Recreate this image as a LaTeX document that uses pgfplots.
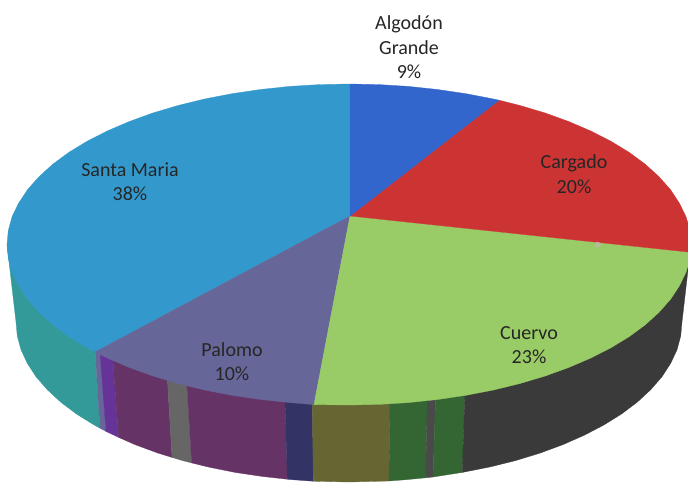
\documentclass[border=0pt]{standalone}
\usepackage{pgfplots}
\pgfplotsset{compat=1.18}
\usepackage{fontspec}
\setmainfont{Carlito}
\definecolor{cblue}{HTML}{3366CC}
\definecolor{cred}{HTML}{CC3333}
\definecolor{cgreen}{HTML}{99CC66}
\definecolor{cslate}{HTML}{666699}
\definecolor{csky}{HTML}{3399CC}
\definecolor{cteal}{HTML}{339999}
\definecolor{cpurple}{HTML}{663399}
\definecolor{cplum}{HTML}{663366}
\definecolor{cgray}{HTML}{666666}
\definecolor{cnavy}{HTML}{333366}
\definecolor{colive}{HTML}{666633}
\definecolor{cdgreen}{HTML}{336633}
\definecolor{cthin}{HTML}{4A4A4A}
\definecolor{cchar}{HTML}{3A3A3A}
\definecolor{cspot}{HTML}{C4B4B4}
\pgfplotsset{seg/.style={fill=#1,draw=#1,line width=0.3pt,no markers,forget plot}}
\tikzset{lab/.style={align=center,font=\fontsize{20}{24.5}\selectfont,text=black!85,inner sep=0pt}}
\begin{document}
\begin{tikzpicture}
\useasboundingbox (0,0) rectangle (688pt,482pt);
\begin{axis}[at={(0,0)},anchor=south west,scale only axis,width=688pt,height=482pt,
  xmin=0,xmax=688,ymin=0,ymax=482,y dir=reverse,hide axis,clip=true]
% side bands
\addplot[seg=cteal] coordinates {(95,350)(87,345)(52.8,322)(27.6,297)(12.1,270)(7,244.5)(16,322)(17.3,336)(21,349.8)(27.4,363.4)(36,376.7)(47.2,389.6)(60.6,402)(76.2,413.8)(94,424.9)(100,428.2)} -- cycle;
\addplot[seg=cslate] coordinates {(95,348)(101,351)(106,431.4)(100,428.2)} -- cycle;
\addplot[seg=cpurple] coordinates {(100,351)(112.7,357)(118.7,437.4)(106,431.4)} -- cycle;
\addplot[seg=cplum] coordinates {(112.7,357)(167.3,377)(172,457.4)(158,453.1)(135,444.6)(118.7,437.4)} -- cycle;
\addplot[seg=cgray] coordinates {(167.3,377)(186.7,382)(191.7,462.9)(182.5,460.6)(172,457.4)} -- cycle;
\addplot[seg=cplum] coordinates {(186.7,382)(285,399)(287.3,479.2)(262.8,476.5)(235.1,472.4)(208.3,467)(191.7,462.9)} -- cycle;
\addplot[seg=cnavy] coordinates {(285,399)(312.3,402)(313.3,481.2)(291.1,479.6)(287.3,479.2)} -- cycle;
\addplot[seg=colive] coordinates {(312.3,402)(390,401)(389,481)(349,482)(320,481.4)(313.3,481.2)} -- cycle;
\addplot[seg=cdgreen] coordinates {(390,401)(427.3,397)(425.7,477.8)(406.9,479.6)(389,481)} -- cycle;
\addplot[seg=cthin] coordinates {(427.3,397)(435.7,396)(433,477)(425.7,477.8)} -- cycle;
\addplot[seg=cdgreen] coordinates {(435.7,396)(465,392)(462.3,472.4)(433,477)} -- cycle;
\addplot[seg=cchar] coordinates {(465,392)(493.5,387)(520,380)(568.9,364)(611,345)(645.2,322)(670.4,297)(685.9,270)(688,262)(688,270)(682,322)(680.7,336)(677,349.8)(670.6,363.4)(662,376.7)(650.8,389.6)(637.4,402)(621.8,413.8)(604,424.9)(584.5,435.1)(563,444.6)(540,453.1)(515.5,460.6)(489.7,467)(462.3,472.4)} -- cycle;
% top faces
\addplot[seg=csky] coordinates {(350,216)(95,352)(87,347.7)(68.8,336.6)(52.8,324.8)(39,312.3)(27.6,299.4)(18.7,286)(12.1,272.4)(8.3,258.5)(7,244.5)(8.3,230.5)(12.1,216.6)(18.7,203)(27.6,189.6)(39,176.7)(52.8,164.2)(68.8,152.4)(87,141.3)(107.2,131)(129.1,121.6)(152.8,113)(178,105.5)(204.5,99)(232,93.7)(260.5,89.5)(289.6,86.4)(319.2,84.6)(349,84)(350,84)} -- cycle;
\addplot[seg=cslate] coordinates {(350,216)(314,404.6)(289.6,402.6)(260.5,399.5)(232,395.3)(204.5,390)(178,383.5)(152.8,376)(129.1,367.4)(107.2,358)(95,352)} -- cycle;
\addplot[seg=cgreen] coordinates {(350,216)(688,252)(688,265.7)(685.9,272.4)(679.3,286)(670.4,299.4)(659,312.3)(645.2,324.8)(629.2,336.6)(611,347.7)(590.8,358)(568.9,367.4)(545.2,376)(520,383.5)(493.5,390)(466,395.3)(437.5,399.5)(408.4,402.6)(378.8,404.4)(349,405)(314,404.6)} -- cycle;
\addplot[seg=cred] coordinates {(350,216)(499,100.2)(520,105.5)(545.2,113)(568.9,121.6)(590.8,131)(611,141.3)(629.2,152.4)(645.2,164.2)(659,176.7)(670.4,189.6)(679.3,203)(685.9,216.6)(688,223.3)(688,252)} -- cycle;
\addplot[seg=cblue] coordinates {(350,216)(350,84)(378.8,84.6)(408.4,86.4)(437.5,89.5)(466,93.7)(493.5,99)(499,100.2)} -- cycle;
% faint highlight on the red/green border
\addplot[only marks,color=cspot,mark=*,mark size=2.6pt,opacity=0.75,forget plot] coordinates {(597.5,244.5)};
% labels
\node[lab] at (axis cs:409,47.5) {Algodón\\Grande\\9\%};
\node[lab] at (axis cs:574,174) {Cargado\\20\%};
\node[lab] at (axis cs:529,345) {Cuervo\\23\%};
\node[lab] at (axis cs:232,361.5) {Palomo\\10\%};
\node[lab] at (axis cs:130,181.5) {Santa Maria\\38\%};
\end{axis}
\end{tikzpicture}
\end{document}
